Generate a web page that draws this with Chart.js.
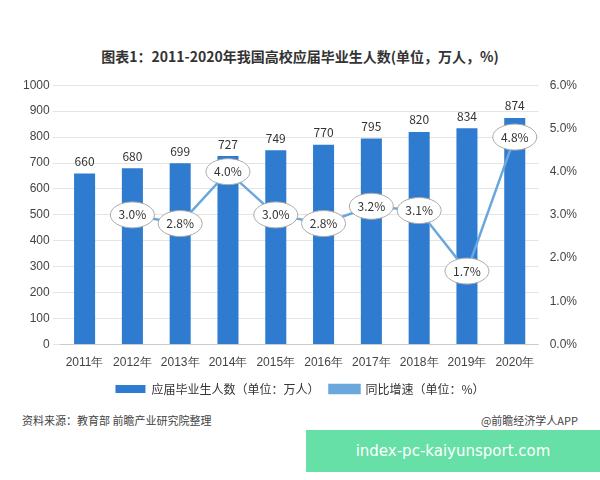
<!DOCTYPE html>
<html><head><meta charset="utf-8">
<script src="https://cdn.jsdelivr.net/npm/chart.js@4/dist/chart.umd.min.js"></script>
<style>
body{margin:0;background:#fff;font-family:"Noto Sans CJK SC",sans-serif;}
#wrap{position:relative;width:600px;height:480px;}
#title{position:absolute;top:46px;left:0;width:600px;text-align:center;font-weight:bold;font-size:14px;color:#333;}
#cv{position:absolute;left:20px;top:75px;}
#src{position:absolute;left:22px;top:412px;font-size:11px;color:#444;}
#brand{position:absolute;right:22px;top:412px;font-size:11px;color:#444;}
#wm{position:absolute;left:306px;top:430px;width:294px;height:42px;background:#66e0a6;color:#fff;font-family:"DejaVu Sans";font-size:15px;line-height:42px;text-align:center;}
</style></head><body>
<div id="wrap">
<div id="title">图表1：2011-2020年我国高校应届毕业生人数(单位，万人，%)</div>
<canvas id="cv" width="560" height="330"></canvas>
<div id="src">资料来源：教育部 前瞻产业研究院整理</div>
<div id="brand">@前瞻经济学人APP</div>
<div id="wm">index-pc-kaiyunsport.com</div>
</div>
<script>
"use strict";

const years = ['2011年','2012年','2013年','2014年','2015年','2016年','2017年','2018年','2019年','2020年'];
const graduates = [660, 680, 699, 727, 749, 770, 795, 820, 834, 874];
const growth = [null, 3.0, 2.8, 4.0, 3.0, 2.8, 3.2, 3.1, 1.7, 4.8];

/* labels: numbers over bars, ellipses on the line */
const labelPlugin = {
  id: 'labels',
  afterDatasetsDraw(chart) {
    const ctx = chart.ctx;
    ctx.save();
    ctx.font = '12px "Noto Sans CJK SC"';
    ctx.textAlign = 'center';
    ctx.textBaseline = 'middle';
    chart.getDatasetMeta(0).data.forEach((bar, i) => {
      ctx.fillStyle = '#333';
      ctx.fillText(graduates[i], bar.x, bar.y - 12);
    });
    chart.getDatasetMeta(1).data.forEach((pt, i) => {
      if (growth[i] == null) return;
      ctx.beginPath();
      ctx.ellipse(pt.x, pt.y, 22, 13, 0, 0, Math.PI * 2);
      ctx.fillStyle = '#fff';
      ctx.fill();
      ctx.strokeStyle = '#aaa';
      ctx.lineWidth = 1;
      ctx.stroke();
      ctx.fillStyle = '#333';
      ctx.fillText(growth[i].toFixed(1) + '%', pt.x, pt.y);
    });
    ctx.restore();
  }
};

new Chart(document.getElementById('cv'), {
  type: 'bar',
  data: {
    labels: years,
    datasets: [{
      label: '应届毕业生人数（单位：万人）',
      data: graduates,
      backgroundColor: '#2e7bd0',
      barPercentage: 0.55,
      yAxisID: 'y',
      order: 2
    }, {
      type: 'line',
      label: '同比增速（单位：%）',
      data: growth,
      borderColor: '#6aa7dc',
      backgroundColor: '#6aa7dc',
      borderWidth: 2.5,
      pointRadius: 3,
      yAxisID: 'y1',
      order: 1
    }]
  },
  options: {
    responsive: false,
    animation: false,
    layout: { padding: { top: 10 } },
    plugins: {
      legend: {
        position: 'bottom',
        labels: {
          font: { size: 12, family: 'Noto Sans CJK SC' }, color: '#333', boxWidth: 30, boxHeight: 8,
          sort: (a, b) => a.datasetIndex - b.datasetIndex
        }
      },
      tooltip: { enabled: false }
    },
    scales: {
      x: {
        grid: { display: false },
        ticks: { color: '#444', font: { size: 12 } }
      },
      y: {
        min: 0, max: 1000,
        ticks: { stepSize: 100, color: '#444', font: { size: 12 }, callback: v => String(v) },
        grid: { color: '#e4e4e4' },
        border: { display: false }
      },
      y1: {
        position: 'right',
        min: 0, max: 6,
        ticks: { stepSize: 1, color: '#444', font: { size: 12 }, callback: v => v.toFixed(1) + '%' },
        grid: { display: false },
        border: { display: false }
      }
    }
  },
  plugins: [labelPlugin]
});
</script>
</body></html>
